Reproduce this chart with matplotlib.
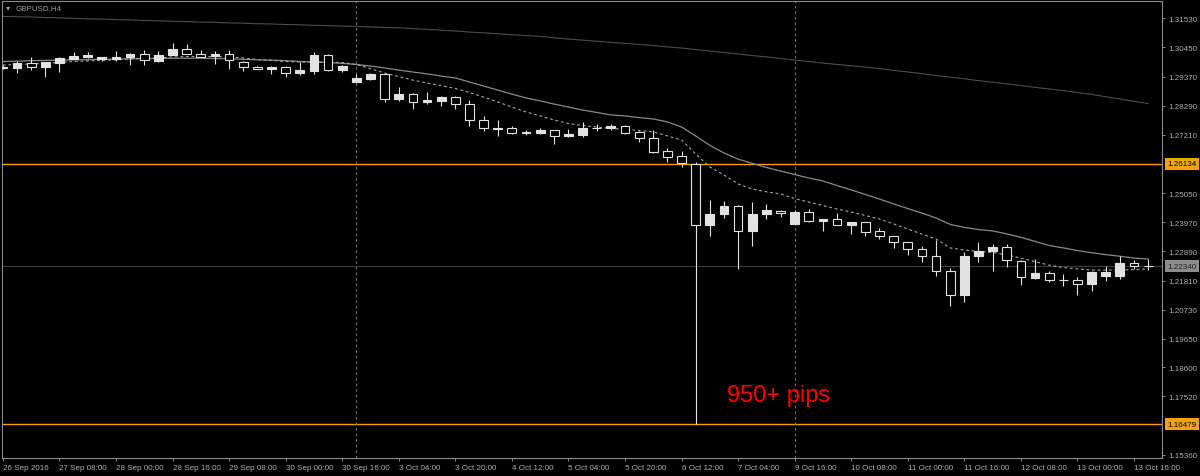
import numpy as np
import matplotlib
matplotlib.use('Agg')
import matplotlib.pyplot as plt

plt.rcParams['font.family'] = ['Liberation Sans', 'DejaVu Sans']

# GBPUSD H4 candles
opens = [1.29696, 1.29688, 1.29862, 1.29714, 1.29885, 1.30033, 1.30085, 1.30033, 1.30033, 1.30085,
         1.30207, 1.29937, 1.30181, 1.30392, 1.30207, 1.30144, 1.30207, 1.29922, 1.29736, 1.29662,
         1.29736, 1.29492, 1.29588, 1.30170, 1.29614, 1.29158, 1.29282, 1.29467, 1.28539, 1.28724,
         1.28417, 1.28465, 1.28602, 1.28343, 1.27761, 1.27464, 1.27453, 1.27316, 1.27279, 1.27379,
         1.27156, 1.27205, 1.27471, 1.27453, 1.27527, 1.27305, 1.27094, 1.26600, 1.26437, 1.26134,
         1.23868, 1.24265, 1.24561, 1.23657, 1.24275, 1.24387, 1.23905, 1.24361, 1.24016, 1.24090,
         1.23868, 1.23968, 1.23657, 1.23449, 1.23227, 1.22978, 1.22708, 1.22152, 1.21273, 1.22708,
         1.22916, 1.23042, 1.22545, 1.21903, 1.22089, 1.21840, 1.21829, 1.21681, 1.21977, 1.21989,
         1.22459, 1.22330]
highs = [1.29781, 1.29959, 1.30107, 1.29911, 1.30096, 1.30270, 1.30281, 1.30114, 1.30318, 1.30244,
         1.30355, 1.30307, 1.30604, 1.30578, 1.30355, 1.30330, 1.30355, 1.29966, 1.29763, 1.29763,
         1.29763, 1.29899, 1.30270, 1.30207, 1.29800, 1.29467, 1.29504, 1.29484, 1.28973, 1.28761,
         1.28787, 1.28632, 1.28632, 1.28502, 1.27898, 1.27772, 1.27549, 1.27379, 1.27475, 1.27408,
         1.27427, 1.27705, 1.27612, 1.27612, 1.27557, 1.27342, 1.27401, 1.26711, 1.26622, 1.26220,
         1.24806, 1.24769, 1.24621, 1.24710, 1.24646, 1.24424, 1.24424, 1.24461, 1.24109, 1.24313,
         1.23998, 1.23998, 1.23746, 1.23479, 1.23256, 1.23079, 1.23323, 1.22263, 1.22856, 1.23227,
         1.23164, 1.23164, 1.22589, 1.22608, 1.22174, 1.22052, 1.21929, 1.22163, 1.22337, 1.22708,
         1.22571, 1.22608]
lows = [1.29651, 1.29492, 1.29614, 1.29366, 1.29551, 1.30011, 1.30077, 1.29959, 1.29959, 1.29810,
        1.29810, 1.29911, 1.30170, 1.30189, 1.30096, 1.29837, 1.29651, 1.29566, 1.29651, 1.29467,
        1.29366, 1.29430, 1.29467, 1.29595, 1.29529, 1.29132, 1.29243, 1.28439, 1.28476, 1.28169,
        1.28354, 1.28268, 1.28169, 1.27549, 1.27364, 1.27179, 1.27230, 1.27205, 1.27260, 1.26871,
        1.27131, 1.27119, 1.27364, 1.27401, 1.27260, 1.26956, 1.26526, 1.26192, 1.26007, 1.16479,
        1.23460, 1.24128, 1.22237, 1.23101, 1.24090, 1.24154, 1.23868, 1.23979, 1.23657, 1.23850,
        1.23534, 1.23449, 1.23349, 1.23004, 1.22756, 1.22486, 1.21989, 1.20877, 1.21003, 1.22508,
        1.22152, 1.22300, 1.21655, 1.21866, 1.21744, 1.21596, 1.21284, 1.21433, 1.21781, 1.21866,
        1.22237, 1.22200]
closes = [1.29733, 1.29862, 1.29714, 1.29911, 1.30059, 1.30144, 1.30159, 1.30085, 1.30085, 1.30207,
          1.29985, 1.30159, 1.30392, 1.30207, 1.30107, 1.30207, 1.29985, 1.29714, 1.29662, 1.29736,
          1.29514, 1.29614, 1.30170, 1.29625, 1.29773, 1.29306, 1.29467, 1.28539, 1.28724, 1.28417,
          1.28502, 1.28602, 1.28343, 1.27749, 1.27475, 1.27442, 1.27279, 1.27294, 1.27401, 1.27156,
          1.27242, 1.27464, 1.27453, 1.27549, 1.27279, 1.27082, 1.26585, 1.26400, 1.26155, 1.23857,
          1.24275, 1.24584, 1.23657, 1.24275, 1.24424, 1.24312, 1.24361, 1.24005, 1.24090, 1.23868,
          1.23968, 1.23620, 1.23449, 1.23227, 1.22978, 1.22708, 1.22152, 1.21273, 1.22708, 1.22916,
          1.23042, 1.22571, 1.21929, 1.22089, 1.21840, 1.21822, 1.21681, 1.22137, 1.22137, 1.22459,
          1.22330, 1.22340]

# moving averages drawn on the chart
ma_long = [1.3160, 1.3159, 1.3158, 1.3156, 1.3155, 1.3153, 1.3151, 1.3150, 1.3148, 1.3147,
           1.3145, 1.3144, 1.3142, 1.3141, 1.3139, 1.3138, 1.3136, 1.3135, 1.3133, 1.3132,
           1.3130, 1.3129, 1.3127, 1.3126, 1.3124, 1.3123, 1.3121, 1.3119, 1.3118, 1.3115,
           1.3112, 1.3109, 1.3106, 1.3102, 1.3099, 1.3096, 1.3092, 1.3089, 1.3086, 1.3081,
           1.3076, 1.3072, 1.3068, 1.3064, 1.3060, 1.3056, 1.3052, 1.3047, 1.3043, 1.3037,
           1.3032, 1.3026, 1.3021, 1.3015, 1.3010, 1.3004, 1.2998, 1.2993, 1.2987, 1.2982,
           1.2977, 1.2972, 1.2967, 1.2960, 1.2954, 1.2948, 1.2941, 1.2935, 1.2929, 1.2922,
           1.2916, 1.2910, 1.2904, 1.2897, 1.2891, 1.2885, 1.2878, 1.2871, 1.2862, 1.2854,
           1.2845, 1.2837]
ma_mid = [1.2993, 1.2994, 1.2996, 1.2997, 1.2998, 1.2999, 1.3000, 1.3001, 1.3002, 1.3003,
          1.3004, 1.3004, 1.3005, 1.3005, 1.3005, 1.3004, 1.3003, 1.3001, 1.2999, 1.2998,
          1.2996, 1.2993, 1.2991, 1.2989, 1.2986, 1.2982, 1.2976, 1.2969, 1.2961, 1.2954,
          1.2947, 1.2939, 1.2932, 1.2917, 1.2902, 1.2887, 1.2872, 1.2858, 1.2847, 1.2835,
          1.2824, 1.2813, 1.2804, 1.2795, 1.2791, 1.2785, 1.2780, 1.2769, 1.2750, 1.2717,
          1.2682, 1.2654, 1.2631, 1.2615, 1.2600, 1.2587, 1.2574, 1.2561, 1.2550, 1.2533,
          1.2517, 1.2500, 1.2483, 1.2465, 1.2448, 1.2431, 1.2413, 1.2389, 1.2378, 1.2370,
          1.2365, 1.2354, 1.2341, 1.2326, 1.2311, 1.2302, 1.2292, 1.2284, 1.2277, 1.2271,
          1.2264, 1.2261]
ma_fast = [1.2980, 1.2982, 1.2984, 1.2986, 1.2989, 1.2993, 1.2995, 1.2997, 1.2999, 1.3002,
           1.3004, 1.3006, 1.3010, 1.3011, 1.3011, 1.3011, 1.3010, 1.3006, 1.3000, 1.2997,
           1.2993, 1.2991, 1.2991, 1.2991, 1.2989, 1.2982, 1.2967, 1.2950, 1.2937, 1.2924,
           1.2913, 1.2904, 1.2893, 1.2878, 1.2861, 1.2843, 1.2824, 1.2806, 1.2791, 1.2776,
           1.2763, 1.2756, 1.2750, 1.2745, 1.2741, 1.2737, 1.2732, 1.2717, 1.2702, 1.2650,
           1.2602, 1.2572, 1.2539, 1.2520, 1.2510, 1.2502, 1.2485, 1.2472, 1.2459, 1.2446,
           1.2435, 1.2422, 1.2409, 1.2391, 1.2372, 1.2353, 1.2335, 1.2302, 1.2294, 1.2289,
           1.2285, 1.2276, 1.2264, 1.2251, 1.2238, 1.2229, 1.2224, 1.2220, 1.2220, 1.2220,
           1.2222, 1.2224]

range_high = 1.26134
range_low = 1.16479
last_price = 1.22340
week_breaks = [25, 56]

y_ticks = [1.31530, 1.30450, 1.29370, 1.28290, 1.27210, 1.25050, 1.23970, 1.22890,
           1.21810, 1.20730, 1.19650, 1.18600, 1.17520, 1.15360]
x_tick_bars = [0, 4, 8, 12, 16, 20, 24, 28, 32, 36, 40, 44, 48, 52, 56, 60, 64, 68, 72, 76, 80]
x_tick_labels = ['26 Sep 2016', '27 Sep 08:00', '28 Sep 00:00', '28 Sep 16:00', '29 Sep 08:00',
                 '30 Sep 00:00', '30 Sep 16:00', '3 Oct 04:00', '3 Oct 20:00', '4 Oct 12:00',
                 '5 Oct 04:00', '5 Oct 20:00', '6 Oct 12:00', '7 Oct 04:00', '9 Oct 16:00',
                 '10 Oct 08:00', '11 Oct 00:00', '11 Oct 16:00', '12 Oct 08:00', '13 Oct 00:00',
                 '13 Oct 16:00']

o = np.array(opens)
h = np.array(highs)
l = np.array(lows)
c = np.array(closes)
x = np.arange(len(o))

candle_col = '#e2e2e2'
axis_col = '#8c8c8c'
label_col = '#b0b0b0'
orange = '#f5a300'

fig = plt.figure(figsize=(12, 4.77), dpi=100, facecolor='black')
ax = fig.add_axes([2 / 1200, 18 / 477, 1160 / 1200, 457 / 477])
ax.set_facecolor('black')

# reference lines
for p in [range_high, range_low]:
    ax.axhline(p, color=orange, lw=1.0, zorder=1)
ax.axhline(last_price, color='#3c3c3c', lw=0.8, zorder=1)
for b in week_breaks:
    ax.axvline(b, color='#6e6e6e', lw=0.8, ls=(0, (2.5, 2.5)), zorder=1)

# moving averages
ax.plot(x, ma_long, color='#4c4c4c', lw=0.8, zorder=2)
ax.plot(x, ma_mid, color='#8a8a8a', lw=0.9, zorder=2)
ax.plot(x, ma_fast, color='#a8a8a8', lw=0.8, ls=(0, (2.5, 2.5)), zorder=2)

# candles: white body = up, black body = down
up = c >= o
ax.vlines(x, l, h, color=candle_col, lw=0.8, zorder=3)
ax.bar(x, np.abs(c - o), bottom=np.minimum(o, c), width=0.62,
       color=np.where(up, candle_col, 'black'), edgecolor=candle_col,
       linewidth=0.8, zorder=4)

ax.set_xlim(-0.06, 81.98)
ax.set_ylim(1.15231, 1.32172)

for s in ax.spines.values():
    s.set_color(axis_col)
    s.set_linewidth(0.8)

ax.yaxis.tick_right()
ax.set_yticks(y_ticks)
ax.set_yticklabels(['%.5f' % v for v in y_ticks])
ax.set_xticks(x_tick_bars)
ax.set_xticklabels(x_tick_labels, ha='left')
ax.tick_params(axis='both', colors=axis_col, labelcolor=label_col, labelsize=5.8,
               length=2.2, width=0.7)
ax.tick_params(axis='y', pad=2.6)
ax.tick_params(axis='x', pad=2.0)

# highlighted price labels on the right scale
for p, bg, fg in [(range_high, orange, 'black'), (range_low, orange, 'black'),
                  (last_price, '#8c8c8c', '#1e1e1e')]:
    ax.text(1.0 + 5 / 1160, p, '%.5f' % p, transform=ax.get_yaxis_transform(),
            fontsize=5.8, color=fg, ha='left', va='center', clip_on=False, zorder=6,
            bbox=dict(boxstyle='square,pad=0.3', fc=bg, ec='none'))

ax.text(4 / 1160, 1 - 7 / 457, '\u25be', transform=ax.transAxes, fontsize=6,
        color='#9a9a9a', ha='left', va='center')
ax.text(14 / 1160, 1 - 7 / 457, 'GBPUSD,H4', transform=ax.transAxes, fontsize=5.8,
        color='#9a9a9a', ha='left', va='center')

ax.text(51.2, 1.1757, '950+ pips', color='#ff0000', fontsize=17, ha='left', va='center',
        zorder=6)

fig.savefig('out.png', dpi=100, facecolor='black')
